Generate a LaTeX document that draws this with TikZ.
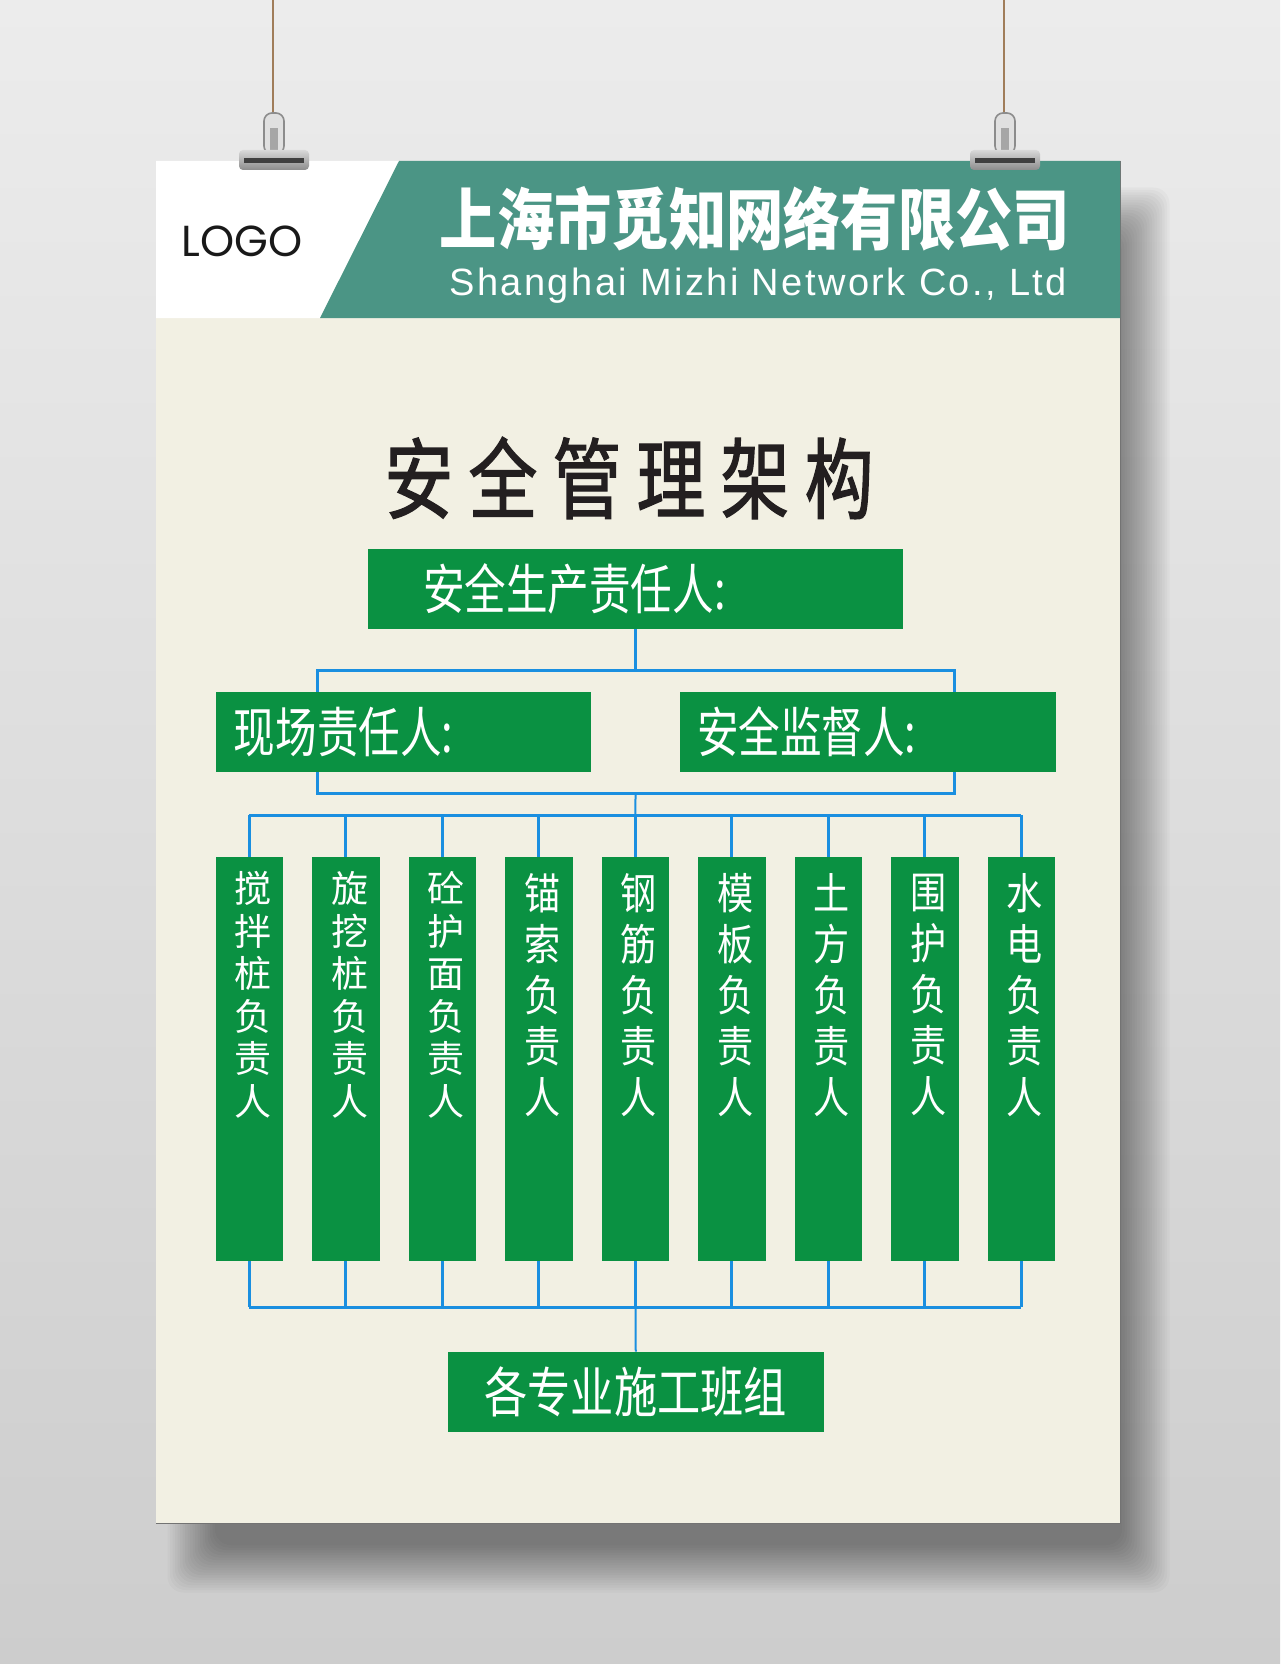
\documentclass[tikz,border=0pt]{standalone}
\usepackage{fontspec}
\setmainfont{Liberation Sans}
\newfontfamily\cjk{Noto Sans CJK SC}
\newfontfamily\cjkhead[FakeStretch=0.855]{Noto Sans CJK SC}
\newfontfamily\cjktitle[FakeStretch=0.78,LetterSpace=17.5,FakeBold=1.5]{Noto Sans CJK SC}
\newfontfamily\cjkbox[FakeStretch=0.77]{Noto Sans CJK SC}
\newfontfamily\cjkbot[FakeStretch=0.80]{Noto Sans CJK SC}
\newfontfamily\cjktall[FakeStretch=0.84]{Noto Sans CJK SC}
\newfontfamily\logofont{Poppins}
\newfontfamily\engfont[LetterSpace=6.5]{Liberation Sans}
\usepackage{tikz}
\usetikzlibrary{positioning}
\definecolor{walltop}{RGB}{236,236,236}
\definecolor{wallbottom}{RGB}{205,205,205}
\definecolor{cream}{RGB}{242,240,227}
\definecolor{headteal}{RGB}{75,149,133}
\definecolor{boxgreen}{RGB}{10,145,66}
\definecolor{lineblue}{RGB}{26,143,224}
\definecolor{inkblack}{RGB}{35,31,32}
\definecolor{twine}{RGB}{160,125,90}
\tikzstyle{greenbox} = [
    rectangle,
    fill = boxgreen,
    text = white,
    inner ysep = 0pt,
    minimum height = 40pt
]
\tikzstyle{colbox} = [
    rectangle,
    fill = boxgreen,
    inner sep = 0pt,
    minimum width = 33.6pt,
    minimum height = 202pt
]
\tikzstyle{coltext} = [
    text = white,
    align = center,
    inner sep = 0pt,
    font = \cjk\fontsize{18.5pt}{21.25pt}\selectfont
]
\tikzstyle{coltall} = [
    text = white,
    align = center,
    inner sep = 0pt,
    font = \cjktall\fontsize{21.5pt}{25.5pt}\selectfont
]
\tikzstyle{link} = [
    draw = lineblue,
    line width = 1.5pt
]

\begin{document}
\begin{tikzpicture}[x=0.5pt, y=-0.5pt]
    \useasboundingbox (0,0) rectangle (1280,1664);
    % wall and shadow
    \shade[top color=walltop, bottom color=wallbottom] (0,0) rectangle (1280,1664);
    \foreach \k in {0,...,19}
        \fill[black, opacity=0.025, rounded corners=8pt] (215-2.5*\k,235-2.5*\k) rectangle (1122+2.5*\k,1545+2.5*\k);
    % poster
    \fill[cream] (156,161) rectangle (1120,1523);
    \draw[black!55, line width=0.5pt] (1120,161) -- (1120,1523) -- (156,1523);
    \fill[white] (156,161) -- (399,161) -- (320,318) -- (156,318) -- cycle;
    \fill[headteal] (399,161) -- (1120,161) -- (1120,318) -- (320,318) -- cycle;
    % strings and clips
    \foreach \cx in {274,1005} {
        \draw[twine, line width=1pt] (\cx-1,0) -- (\cx-1,125);
        \filldraw[fill=black!12, draw=black!45, line width=0.8pt, rounded corners=4pt] (\cx-10,113) rectangle (\cx+10,154);
        \fill[black!35] (\cx-4,128) rectangle (\cx+4,150);
        \shade[top color=black!15, bottom color=black!45, rounded corners=2pt] (\cx-35,150) rectangle (\cx+35,170);
        \fill[black!75] (\cx-30,158) rectangle (\cx+30,163);
    }
    % header
    \node[inner sep=0pt, text=black!90, font=\logofont\fontsize{21.7pt}{26pt}\selectfont] (logo) at (242,241.5) {LOGO};
    \node[inner sep=0pt, text=white, font=\cjkhead\bfseries\fontsize{33.5pt}{36pt}\selectfont] (company) at (755,218.5) {上海市觅知网络有限公司};
    \node[inner sep=0pt, anchor=base west, text=white, font=\engfont\fontsize{19pt}{22pt}\selectfont] (english) at (449,295) {Shanghai Mizhi Network Co., Ltd};
    \node[inner sep=0pt, text=inkblack, font=\cjktitle\fontsize{44pt}{48pt}\selectfont] (headline) at (629,478) {安全管理架构};
    % boxes
    \node[greenbox, minimum width=267.5pt, inner xsep=27.5pt, text width=212.5pt, align=left,
          font=\cjkbox\fontsize{27pt}{30pt}\selectfont] (chief) at (635.5,589) {安全生产责任人:};
    \node[greenbox, minimum width=187.5pt, inner xsep=9pt, text width=169.5pt, align=left,
          font=\cjkbox\fontsize{27pt}{30pt}\selectfont] (site) at (403.4,732) {现场责任人:};
    \node[greenbox, minimum width=188pt, inner xsep=8.5pt, text width=171pt, align=left,
          font=\cjkbox\fontsize{27pt}{30pt}\selectfont] (supv) at (868,732) {安全监督人:};
    \foreach \i/\job/\kind in {1/{搅\\拌\\桩\\负\\责\\人}/coltext, 2/{旋\\挖\\桩\\负\\责\\人}/coltext,
                               3/{砼\\护\\面\\负\\责\\人}/coltext, 4/{锚\\索\\负\\责\\人}/coltall,
                               5/{钢\\筋\\负\\责\\人}/coltall, 6/{模\\板\\负\\责\\人}/coltall,
                               7/{土\\方\\负\\责\\人}/coltall, 8/{围\\护\\负\\责\\人}/coltall,
                               9/{水\\电\\负\\责\\人}/coltall} {
        \node[colbox] (c\i) at ({249.4+96.5*(\i-1)},1059) {};
        \node[\kind] (t\i) at ({253+96.5*(\i-1)},995) {\job};
    }
    \node[greenbox, minimum width=187.75pt, align=center,
          font=\cjkbot\fontsize{27pt}{30pt}\selectfont] (teams) at (635.75,1392) {各专业施工班组};
    % connectors
    \coordinate (upl) at (317,670);
    \coordinate (upr) at (954,670);
    \coordinate (lowl) at (317,793);
    \coordinate (lowr) at (954,793);
    \coordinate (kidbus) at (635.5,815);
    \coordinate (teambus) at (635.5,1307);
    \draw[link] (chief.south) -- (chief.south |- upl);
    \draw[link] (site.north -| upl) |- (upr) -- (supv.north -| upr);
    \draw[link] (site.south -| lowl) |- (lowr) -- (supv.south -| lowr);
    \draw[link, line width=1pt] (lowl -| chief) -- (c5.north);
    \draw[link] (c1.north |- kidbus) -- (c9.north |- kidbus);
    \draw[link] (c1.south |- teambus) -- (c9.south |- teambus);
    \foreach \i in {1,...,9} {
        \draw[link] (c\i.north |- kidbus) -- (c\i.north);
        \draw[link] (c\i.south) -- (c\i.south |- teambus);
    }
    \draw[link, line width=1pt] (teambus) -- (teams.north);
\end{tikzpicture}
\end{document}
